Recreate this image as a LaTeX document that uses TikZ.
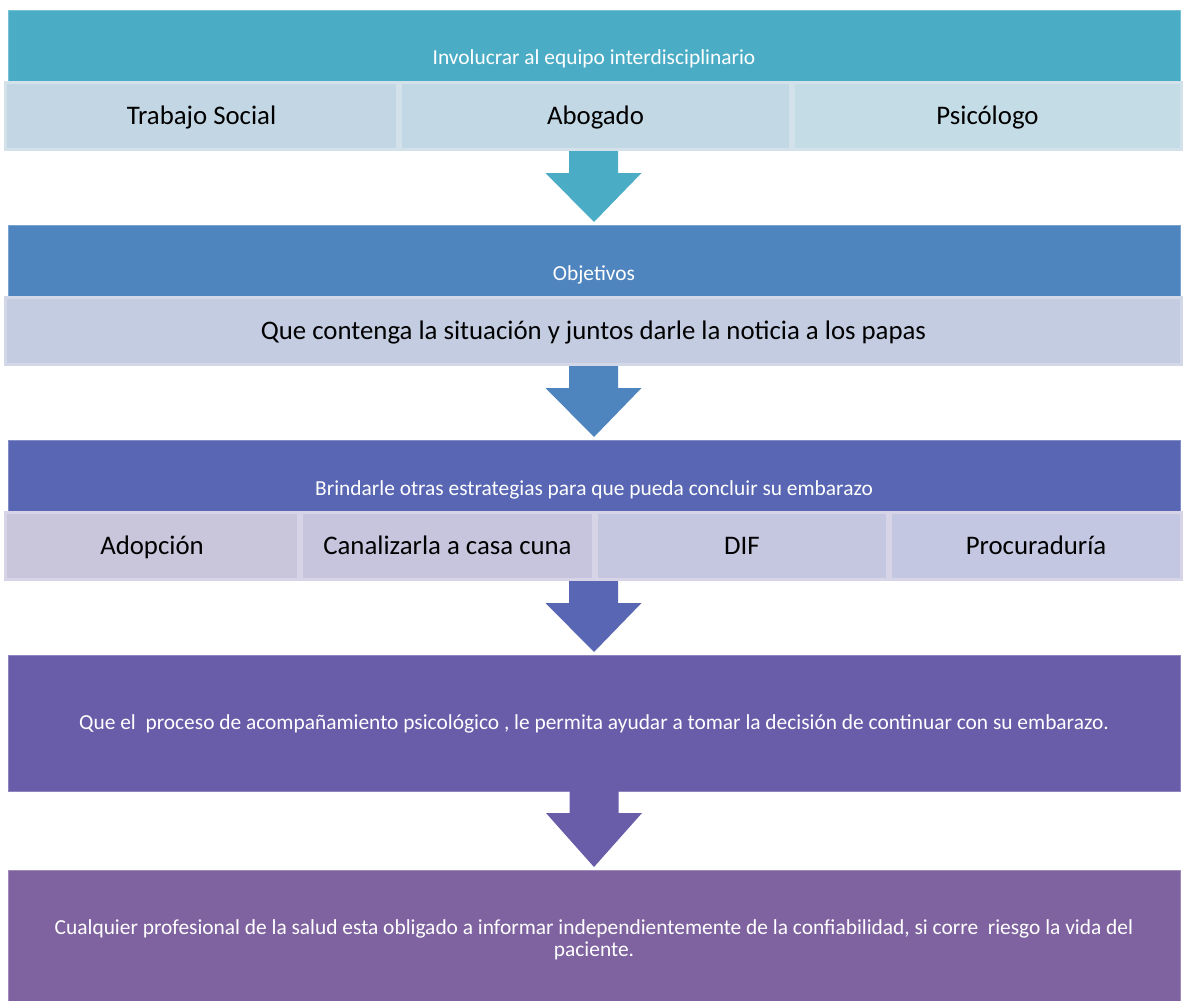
\documentclass[tikz,border=0pt]{standalone}
\usepackage{fontspec}
\setmainfont{Carlito}
\usetikzlibrary{calc}
\definecolor{bandA}{HTML}{4BACC6}
\definecolor{bandB}{HTML}{4F85BE}
\definecolor{bandC}{HTML}{5866B3}
\definecolor{bandD}{HTML}{695DA9}
\definecolor{bandE}{HTML}{7F63A0}
\definecolor{cellA}{HTML}{C2D6E3}
\definecolor{cellAb}{HTML}{C2D8E4}
\definecolor{cellAc}{HTML}{C4DCE6}
\definecolor{cellB}{HTML}{C3CCE1}
\definecolor{cellC}{HTML}{C9C6DC}
\definecolor{cellCb}{HTML}{C7C5DD}
\definecolor{cellCc}{HTML}{C5C6E0}
\definecolor{cellCd}{HTML}{C4C7E2}
\definecolor{edgeA}{HTML}{D2E1EA}
\definecolor{edgeB}{HTML}{D2D8E8}
\definecolor{edgeC}{HTML}{D6D4E6}
\tikzset{
  x=1pt, y=-1pt,
  band/.style={rectangle, anchor=north west, inner sep=0pt, outer sep=0pt,
    fill=#1, draw=#1!75!white, line width=0.8pt},
  bandtext/.style={inner sep=0pt, text=white, font=\fontsize{21.4}{21.5}\selectfont, align=center},
  oneline/.style={text height=13.8pt, text depth=0pt},
  cellbox/.style={rectangle, anchor=north west, inner sep=0pt, outer sep=0pt,
    fill=#1, line width=3pt, font=\fontsize{26.8}{30}\selectfont, text=black,
    text height=17.3pt, text depth=0pt},
}
\newcommand\blockarrow[3]{%
  \fill[#3] ($(#1.south)+(-24.5,0)$) -- ($(#1.south)+(24.5,0)$)
    -- ($(#1.south)+(24.5,22)$) -- ($(#1.south)+(48,22)$)
    -- ($(#2.north)+(0,-3)$)
    -- ($(#1.south)+(-48,22)$) -- ($(#1.south)+(-24.5,22)$) -- cycle;}
\begin{document}
\begin{tikzpicture}
\useasboundingbox[fill=white] (0,0) rectangle (1184,1001);

% ---- block 1
\node[band=bandA, minimum width=1172, minimum height=71] (b1) at (8,10) {};
\node[bandtext, oneline] (t1) at ($(b1.north)+(0,48)$) {Involucrar al equipo interdisciplinario};
\node[cellbox=edgeA, minimum width=1179, minimum height=70] (r1) at (4,81) {};
\node[cellbox=cellA, draw=edgeA, minimum width=392, minimum height=67] (c11) at (5.5,82.5) {Trabajo Social};
\node[cellbox=cellAb, draw=edgeA, minimum width=390, minimum height=67] (c12) at (400.5,82.5) {Abogado};
\node[cellbox=cellAc, draw=edgeA, minimum width=388, minimum height=67] (c13) at (793.5,82.5) {Psicólogo};

% ---- block 2
\node[band=bandB, minimum width=1172, minimum height=71] (b2) at (8,225) {};
\node[bandtext, oneline] (t2) at ($(b2.north)+(0,49)$) {Objetivos};
\node[cellbox=edgeB, minimum width=1179, minimum height=70] (r2) at (4,296) {};
\node[cellbox=cellB, draw=edgeB, minimum width=1176, minimum height=67] (c21) at (5.5,297.5) {Que contenga la situación y juntos darle la noticia a los papas};

% ---- block 3
\node[band=bandC, minimum width=1172, minimum height=71] (b3) at (8,440) {};
\node[bandtext, oneline] (t3) at ($(b3.north)+(0,49)$) {Brindarle otras estrategias para que pueda concluir su embarazo};
\node[cellbox=edgeC, minimum width=1179, minimum height=70] (r3) at (4,511) {};
\node[cellbox=cellC, draw=edgeC, minimum width=293, minimum height=67] (c31) at (5.5,512.5) {Adopción};
\node[cellbox=cellCb, draw=edgeC, minimum width=292, minimum height=67] (c32) at (301.5,512.5) {Canalizarla a casa cuna};
\node[cellbox=cellCc, draw=edgeC, minimum width=291, minimum height=67] (c33) at (596.5,512.5) {DIF};
\node[cellbox=cellCd, draw=edgeC, minimum width=291, minimum height=67] (c34) at (890.5,512.5) {Procuraduría};

% ---- block 4
\node[band=bandD, minimum width=1172, minimum height=136] (b4) at (8,655) {};
\node[bandtext, oneline] (t4) at ($(b4.north)+(0,68)$) {Que el\ \ proceso de acompañamiento psicológico , le permita ayudar a tomar la decisión de continuar con su embarazo.};

% ---- block 5
\node[band=bandE, minimum width=1172, minimum height=136] (b5) at (8,870) {};
\node[bandtext] (t5) at ($(b5.north)+(0,70)$) {Cualquier profesional de la salud esta obligado a informar independientemente de la confiabilidad, si corre\ \ riesgo la vida del\\paciente.};

% ---- arrows
\blockarrow{r1}{b2}{bandA}
\blockarrow{r2}{b3}{bandB}
\blockarrow{r3}{b4}{bandC}
\blockarrow{b4}{b5}{bandD}
\end{tikzpicture}
\end{document}
